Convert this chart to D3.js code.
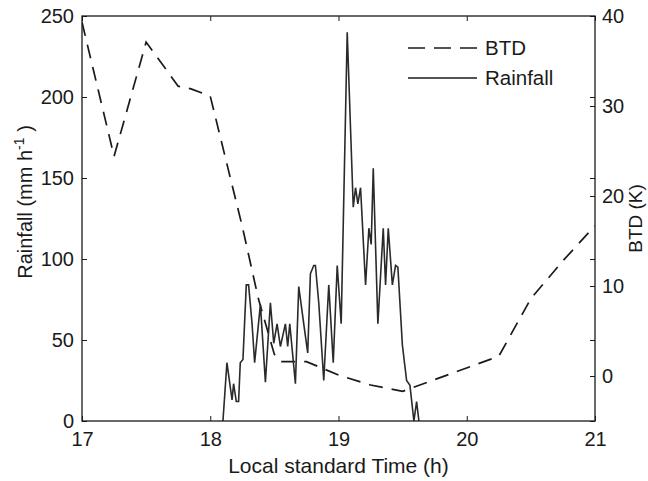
<!DOCTYPE html>
<html>
<head>
<meta charset="utf-8">
<script src="https://cdn.jsdelivr.net/npm/d3@7"></script>
<style>
  html, body { margin: 0; padding: 0; background: #fff; }
  svg text { font-family: "Liberation Sans", Arial, Helvetica, sans-serif; fill: #1a1a1a; }
</style>
</head>
<body>
<svg id="chart" width="648" height="481"></svg>
<script>
// ---- data ----
const xTicks = [17, 18, 19, 20, 21];
const rainTicks = [0, 50, 100, 150, 200, 250];
const btdTicks = [0, 10, 20, 30, 40];

const btdTime  = [17.0, 17.25, 17.5, 17.75, 17.85, 18.0, 18.25, 18.375, 18.5, 18.55, 18.75, 19.0, 19.25, 19.5, 20.25, 20.5, 20.75, 21.0];
const btdValue = [39.3, 24.4, 37.1, 32.2, 31.9, 31.1, 16.6, 8.6, 2.4, 1.6, 1.6, 0.1, -1.0, -1.7, 2.2, 8.6, 12.8, 16.7];

const rainTime = [18.099, 18.130, 18.170, 18.182, 18.203, 18.221, 18.234, 18.255, 18.281, 18.299,
                  18.326, 18.346, 18.391, 18.430, 18.469, 18.495, 18.521, 18.547, 18.586, 18.604,
                  18.620, 18.664, 18.690, 18.729, 18.760, 18.781, 18.807, 18.820, 18.846, 18.885,
                  18.924, 18.959, 18.990, 19.021, 19.068, 19.115, 19.133, 19.151, 19.172, 19.211,
                  19.237, 19.255, 19.271, 19.307, 19.349, 19.367, 19.388, 19.420, 19.445, 19.463,
                  19.498, 19.531, 19.557, 19.588, 19.609, 19.627];
const rainValue = [0, 36, 13, 23, 12, 12, 36, 38, 84, 84,
                   60, 36, 72, 24, 73, 48, 60, 46, 60, 46,
                   60, 23, 83, 60, 42, 91, 96, 96, 73, 25,
                   84, 36, 96, 60, 240, 132, 144, 134, 144, 84,
                   119, 109, 156, 60, 119, 84, 119, 84, 96, 95,
                   47, 25, 22, 0, 12, 0];

const legendLabels = ["BTD", "Rainfall"];

// ---- layout ----
const svg = d3.select("#chart");
const L = 82, R = 595, T = 16, B = 421;
const x = d3.scaleLinear().domain([17, 21]).range([L, R]);
const yR = d3.scaleLinear().domain([0, 250]).range([B, T]);
const yB = d3.scaleLinear().domain([-5, 40]).range([B, T]);

const fontSize = 20;
const tickLen = 5;

svg.append("defs").append("clipPath").attr("id", "clip")
  .append("rect").attr("x", L).attr("y", T).attr("width", R - L).attr("height", B - T);

// lines
const btdLine = d3.line().x((d, i) => x(btdTime[i])).y((d, i) => yB(btdValue[i]));
const rainLine = d3.line().x((d, i) => x(rainTime[i])).y((d, i) => yR(rainValue[i]));

const g = svg.append("g").attr("clip-path", "url(#clip)");
g.append("path").attr("d", btdLine(btdTime))
  .attr("fill", "none").attr("stroke", "#1a1a1a").attr("stroke-width", 1.7)
  .attr("stroke-dasharray", "14,9");
g.append("path").attr("d", rainLine(rainTime))
  .attr("fill", "none").attr("stroke", "#2a2a2a").attr("stroke-width", 1.6)
  .attr("stroke-linejoin", "miter");

// axes
const axB = d3.axisBottom(x).tickValues(xTicks).tickSizeInner(-tickLen).tickSizeOuter(0).tickPadding(11).tickFormat(d3.format("d"));
const axT = d3.axisTop(x).tickValues(xTicks).tickSizeInner(-tickLen).tickSizeOuter(0).tickFormat("");
const axL = d3.axisLeft(yR).tickValues(rainTicks).tickSizeInner(-tickLen).tickSizeOuter(0).tickPadding(8).tickFormat(d3.format("d"));
const axRm = d3.axisRight(yR).tickValues(rainTicks).tickSizeInner(-tickLen).tickSizeOuter(0).tickFormat("");
const axR = d3.axisRight(yB).tickValues(btdTicks).tickSizeInner(-tickLen).tickSizeOuter(0).tickPadding(7).tickFormat(d3.format("d"));

function style(sel) {
  sel.select(".domain").remove();
  sel.selectAll(".tick line").attr("stroke", "#1a1a1a").attr("stroke-width", 1);
  sel.selectAll(".tick text").attr("font-size", fontSize).attr("fill", "#1a1a1a")
    .attr("font-family", '"Liberation Sans", Arial, sans-serif');
}
style(svg.append("g").attr("transform", `translate(0,${B})`).call(axB));
style(svg.append("g").attr("transform", `translate(0,${T})`).call(axT));
style(svg.append("g").attr("transform", `translate(${L},0)`).call(axL));
style(svg.append("g").attr("transform", `translate(${R},0)`).call(axRm));
style(svg.append("g").attr("transform", `translate(${R},0)`).call(axR));

// frame
svg.append("rect").attr("x", L).attr("y", T).attr("width", R - L).attr("height", B - T)
  .attr("fill", "none").attr("stroke", "#1a1a1a").attr("stroke-width", 1.3);

// axis labels
svg.append("text").attr("x", (L + R) / 2).attr("y", 473).attr("text-anchor", "middle")
  .attr("font-size", 21).text("Local standard Time (h)");

const yl = svg.append("text").attr("transform", `translate(32,202) rotate(-90)`)
  .attr("text-anchor", "middle").attr("font-size", fontSize);
yl.append("tspan").text("Rainfall (mm h");
yl.append("tspan").attr("font-size", 14).attr("dy", -8).text("-1");
yl.append("tspan").attr("dy", 8).text(" )");

svg.append("text").attr("transform", `translate(642,${(T + B) / 2}) rotate(-90)`)
  .attr("text-anchor", "middle").attr("font-size", 19).text("BTD (K)");

// legend
const legY = [48, 78];
const lg = svg.append("g");
legendLabels.forEach((lab, i) => {
  lg.append("line").attr("x1", 408).attr("x2", 477).attr("y1", legY[i]).attr("y2", legY[i])
    .attr("stroke", "#1a1a1a").attr("stroke-width", i === 0 ? 1.7 : 1.5)
    .attr("stroke-dasharray", i === 0 ? "17,9" : null);
  lg.append("text").attr("x", 485).attr("y", legY[i] + 7).attr("font-size", 20.5).text(lab);
});
</script>
</body>
</html>
